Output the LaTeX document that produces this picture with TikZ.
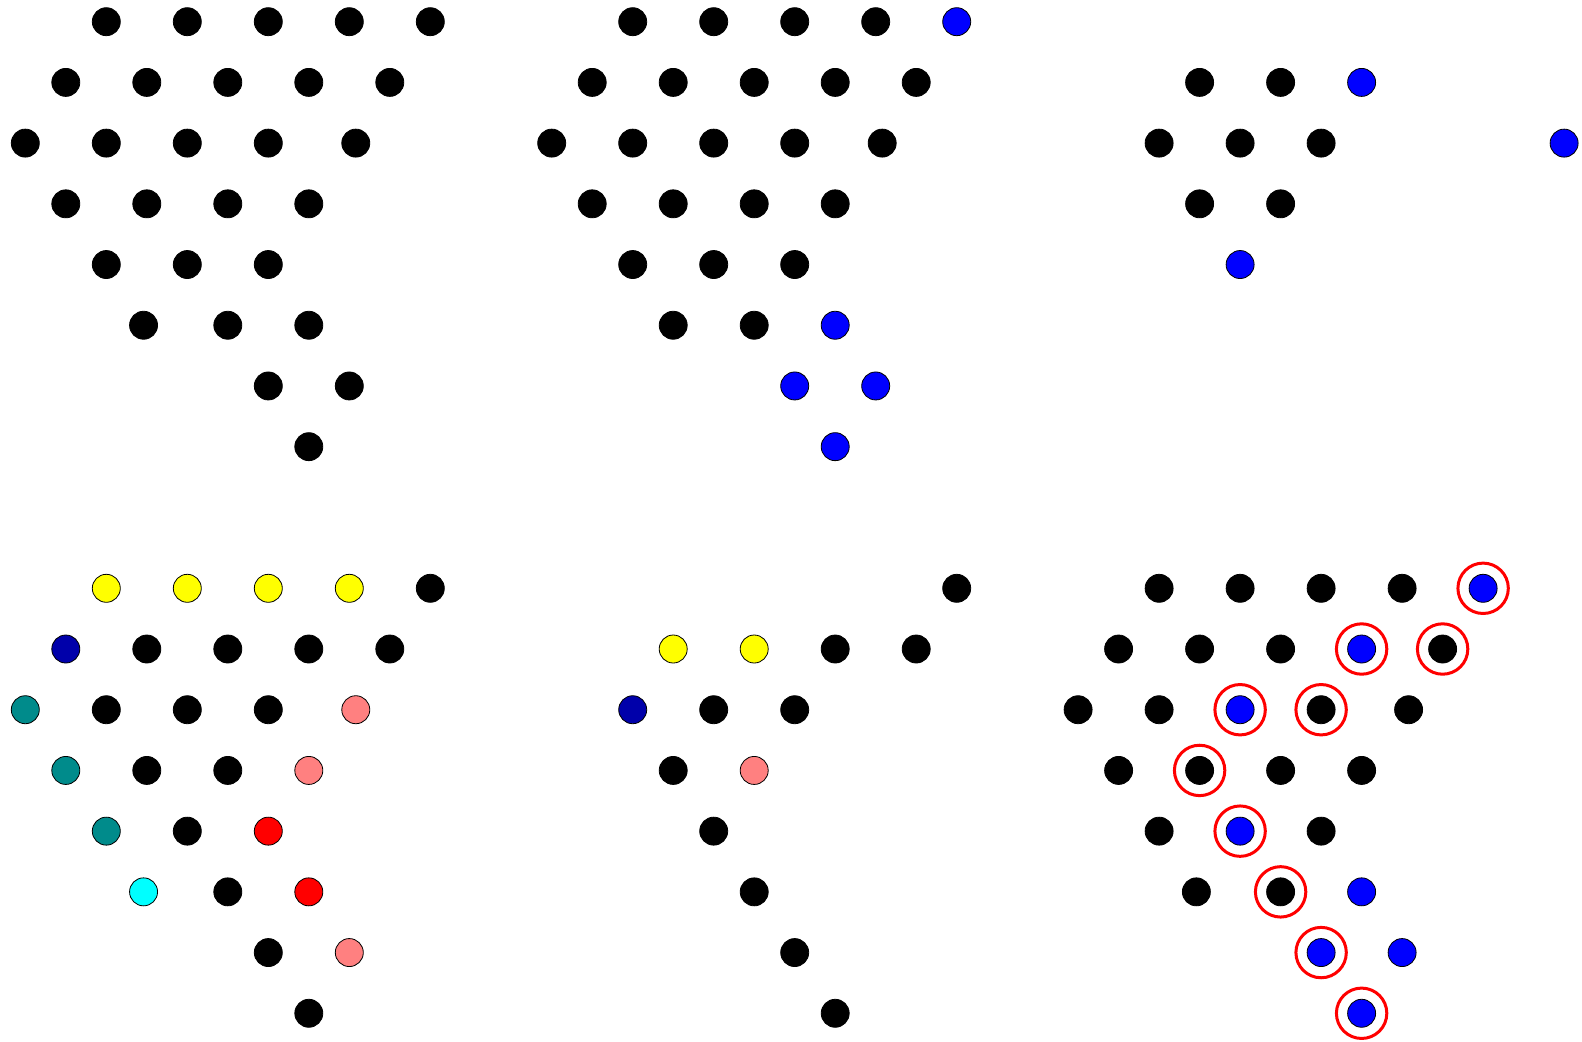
\documentclass[tikz,border=0pt]{standalone}
\usepackage{tikz}
\definecolor{dotnavy}{RGB}{0,0,170}
\definecolor{dotteal}{RGB}{0,139,139}
\definecolor{dotsalmon}{RGB}{255,128,128}
\definecolor{dotblue}{RGB}{0,0,255}
\definecolor{dotyellow}{RGB}{255,255,0}
\definecolor{dotred}{RGB}{255,0,0}
\definecolor{dotcyan}{RGB}{0,255,255}
\tikzset{
  dot/.style={circle,draw=black,line width=0.4pt,minimum size=14pt,inner sep=0pt},
  kdot/.style={dot,fill=black},
  bdot/.style={dot,fill=dotblue},
  ydot/.style={dot,fill=dotyellow},
  ndot/.style={dot,fill=dotnavy},
  tdot/.style={dot,fill=dotteal},
  sdot/.style={dot,fill=dotsalmon},
  rdot/.style={dot,fill=dotred},
  cdot/.style={dot,fill=dotcyan},
  ring/.style={circle,draw=dotred,line width=1.5pt,minimum size=25.2pt,inner sep=0pt},
  panel/.style={x=40.5pt,y=-30.355pt},
}

\begin{document}
\begin{tikzpicture}[x=0.5pt,y=-0.5pt]
  \useasboundingbox (0,0) rectangle (1582,1042);
  % full board
  \begin{scope}[shift={(25.3,21.7)},panel]
    \foreach \x/\r/\s [count=\i] in {1/0/kdot,2/0/kdot,3/0/kdot,4/0/kdot,5/0/kdot,
        .5/1/kdot,1.5/1/kdot,2.5/1/kdot,3.5/1/kdot,4.5/1/kdot,
        0/2/kdot,1/2/kdot,2/2/kdot,3/2/kdot,4.08/2/kdot,
        .5/3/kdot,1.5/3/kdot,2.5/3/kdot,3.5/3/kdot,
        1/4/kdot,2/4/kdot,3/4/kdot,
        1.46/5/kdot,2.5/5/kdot,3.5/5/kdot,
        3/6/kdot,4/6/kdot,3.5/7/kdot}
      \node[\s] (a\i) at (\x,\r) {};
  \end{scope}
  \begin{scope}[shift={(551.7,21.7)},panel]
    \foreach \x/\r/\s [count=\i] in {1/0/kdot,2/0/kdot,3/0/kdot,4/0/kdot,5/0/bdot,
        .5/1/kdot,1.5/1/kdot,2.5/1/kdot,3.5/1/kdot,4.5/1/kdot,
        0/2/kdot,1/2/kdot,2/2/kdot,3/2/kdot,4.08/2/kdot,
        .5/3/kdot,1.5/3/kdot,2.5/3/kdot,3.5/3/kdot,
        1/4/kdot,2/4/kdot,3/4/kdot,
        1.5/5/kdot,2.5/5/kdot,3.5/5/bdot,
        3/6/bdot,4/6/bdot,3.5/7/bdot}
      \node[\s] (b\i) at (\x,\r) {};
  \end{scope}
  \begin{scope}[shift={(1078.1,21.7)},panel]
    \foreach \x/\r/\s [count=\i] in {1.5/1/kdot,2.5/1/kdot,3.5/1/bdot,
        1/2/kdot,2/2/kdot,3/2/kdot,6/2/bdot,
        1.5/3/kdot,2.5/3/kdot,2/4/bdot}
      \node[\s] (c\i) at (\x,\r) {};
  \end{scope}
  % coloured boards
  \begin{scope}[shift={(25.3,588.3)},panel]
    \foreach \x/\r/\s [count=\i] in {1/0/ydot,2/0/ydot,3/0/ydot,4/0/ydot,5/0/kdot,
        .5/1/ndot,1.5/1/kdot,2.5/1/kdot,3.5/1/kdot,4.5/1/kdot,
        0/2/tdot,1/2/kdot,2/2/kdot,3/2/kdot,4.08/2/sdot,
        .5/3/tdot,1.5/3/kdot,2.5/3/kdot,3.5/3/sdot,
        1/4/tdot,2/4/kdot,3/4/rdot,
        1.46/5/cdot,2.5/5/kdot,3.5/5/rdot,
        3/6/kdot,4/6/sdot,3.5/7/kdot}
      \node[\s] (d\i) at (\x,\r) {};
  \end{scope}
  \begin{scope}[shift={(551.7,588.3)},panel]
    \foreach \x/\r/\s [count=\i] in {5/0/kdot,
        1.5/1/ydot,2.5/1/ydot,3.5/1/kdot,4.5/1/kdot,
        1/2/ndot,2/2/kdot,3/2/kdot,
        1.5/3/kdot,2.5/3/sdot,
        2/4/kdot,2.5/5/kdot,3/6/kdot,3.5/7/kdot}
      \node[\s] (e\i) at (\x,\r) {};
  \end{scope}
  \begin{scope}[shift={(1078.1,588.3)},panel]
    \foreach \x/\r/\s [count=\i] in {1/0/kdot,2/0/kdot,3/0/kdot,4/0/kdot,5/0/bdot,
        .5/1/kdot,1.5/1/kdot,2.5/1/kdot,3.5/1/bdot,4.5/1/kdot,
        0/2/kdot,1/2/kdot,2/2/bdot,3/2/kdot,4.08/2/kdot,
        .5/3/kdot,1.5/3/kdot,2.5/3/kdot,3.5/3/kdot,
        1/4/kdot,2/4/bdot,3/4/kdot,
        1.46/5/kdot,2.5/5/kdot,3.5/5/bdot,
        3/6/bdot,4/6/bdot,3.5/7/bdot}
      \node[\s] (f\i) at (\x,\r) {};
    % marked holes
    \foreach \n in {5,9,10,13,14,17,21,24,26,28}
      \node[ring] (r\n) at (f\n) {};
  \end{scope}
\end{tikzpicture}
\end{document}
